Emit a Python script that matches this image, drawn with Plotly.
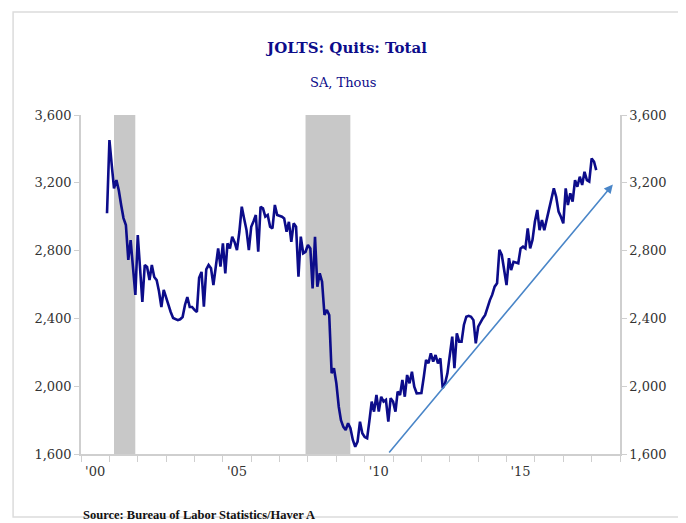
import pandas as pd
import plotly.graph_objects as go

# monthly JOLTS quits, thousands, Dec 2000 onwards
start_month = "2000-12-01"
quits = [
    3020,
    3452, 3300, 3167, 3216, 3157, 3069, 2992, 2951, 2745, 2862, 2697, 2538,  # 2001
    2892, 2697, 2497, 2715, 2703, 2626, 2715, 2644, 2626, 2560, 2467, 2568,  # 2002
    2520, 2470, 2438, 2402, 2395, 2390, 2395, 2408, 2479, 2526, 2467, 2467,  # 2003
    2450, 2438, 2640, 2674, 2469, 2690, 2715, 2696, 2597, 2705, 2813, 2705,  # 2004
    2843, 2666, 2843, 2813, 2882, 2850, 2803, 2911, 3059, 2990, 2921, 2803,  # 2005
    2941, 2975, 3010, 2793, 3059, 3049, 3000, 3010, 2941, 2931, 3069, 3010,  # 2006
    3005, 3000, 2990, 2911, 2970, 2852, 2961, 2941, 2646, 2882, 2784, 2793,  # 2007
    2833, 2813, 2577, 2882, 2587, 2666, 2617, 2420, 2450, 2420, 2076, 2106,  # 2008
    2017, 1879, 1800, 1760, 1742, 1781, 1752, 1683, 1643, 1673, 1791, 1722,  # 2009
    1700, 1693, 1791, 1909, 1850, 1948, 1850, 1938, 1909, 1919, 1791, 1929,  # 2010
    1909, 1850, 1968, 1948, 2037, 1938, 2066, 2017, 2085, 1997, 1958, 1958,  # 2011
    1960, 2056, 2155, 2135, 2194, 2145, 2184, 2135, 2164, 1988, 2017, 2076,  # 2012
    2180, 2292, 2106, 2312, 2263, 2263, 2361, 2410, 2415, 2410, 2390, 2253,  # 2013
    2351, 2380, 2400, 2420, 2469, 2508, 2540, 2587, 2607, 2804, 2774, 2685,  # 2014
    2597, 2755, 2685, 2734, 2730, 2725, 2813, 2823, 2813, 2931, 2813, 2862,  # 2015
    2970, 3040, 2921, 2980, 2921, 2980, 3040, 3108, 3167, 3118, 3030, 3000,  # 2016
    2961, 3167, 3069, 3138, 3089, 3216, 3177, 3236, 3187, 3265, 3216, 3207,  # 2017
    3344, 3324, 3275,                                                        # 2018
]
dates = pd.date_range(start_month, periods=len(quits), freq="MS")

recessions = [("2001-03-01", "2001-11-30"), ("2007-12-01", "2009-06-30")]
trend_start = ("2010-10-27", 1600)
trend_end = ("2018-10-01", 3190)

y_ticks = [1600, 2000, 2400, 2800, 3200, 3600]
year_ticks = [f"{y}-01-01" for y in range(2000, 2020)]
x_labels = ["'00", "'05", "'10", "'15"]
x_label_pos = ["2000-07-01", "2005-07-01", "2010-07-01", "2015-07-01"]

navy = "#0c0c8a"
serif = "DejaVu Serif"
x_range = ["2000-01-01", "2019-01-01"]

fig = go.Figure()
fig.add_trace(go.Scatter(x=dates, y=quits, mode="lines",
                         line=dict(color=navy, width=2.6), showlegend=False))
# same series on the overlay axes, invisible, so those axes get drawn
fig.add_trace(go.Scatter(x=dates, y=quits, mode="lines", xaxis="x2", yaxis="y2",
                         line=dict(color="rgba(0,0,0,0)", width=0),
                         showlegend=False, hoverinfo="skip"))

for a, b in recessions:
    fig.add_shape(type="rect", xref="x", yref="paper", x0=a, x1=b, y0=0, y1=1,
                  fillcolor="#c8c8c8", line_width=0, layer="below")

fig.add_annotation(x=trend_end[0], y=trend_end[1], ax=trend_start[0], ay=trend_start[1],
                   xref="x", yref="y", axref="x", ayref="y", text="",
                   showarrow=True, arrowhead=2, arrowsize=1.1, arrowwidth=1.6,
                   arrowcolor="#4a86c8")

# outer frame
fig.add_shape(type="rect", xref="paper", yref="paper",
              x0=-0.126, x1=1.135, y0=-0.186, y1=1.304,
              line=dict(color="#dcdcdc", width=1.5), fillcolor="rgba(0,0,0,0)")

fig.add_annotation(text="SA, Thous", xref="paper", yref="paper", x=0.487, y=1.097,
                   yanchor="middle", showarrow=False,
                   font=dict(family=serif, size=13, color=navy))
fig.add_annotation(text="<b>Source: Bureau of Labor Statistics/Haver A</b>",
                   xref="paper", yref="paper", x=0.0, y=-0.18, xanchor="left",
                   yanchor="middle", showarrow=False,
                   font=dict(family="Liberation Serif", size=12.5, color="#111"))

axis_font = dict(family=serif, size=13, color="#333")
grey = "#cfcfcf"

fig.update_layout(
    width=678, height=515,
    margin=dict(l=73, r=66, t=107, b=69),
    paper_bgcolor="white", plot_bgcolor="white",
    title=dict(text="<b>JOLTS: Quits: Total</b>", x=0.5, xanchor="center",
               y=1 - 40 / 515, yanchor="middle",
               font=dict(family=serif, size=15, color=navy)),
    xaxis=dict(range=x_range, tickmode="array", tickvals=year_ticks,
               ticktext=[""] * len(year_ticks), ticks="outside", ticklen=6,
               tickcolor=grey, showgrid=False, zeroline=False, showline=True,
               linecolor=grey, linewidth=1.5),
    xaxis2=dict(range=x_range, overlaying="x", side="bottom", tickmode="array",
                tickvals=x_label_pos, ticktext=x_labels, ticks="",
                ticklabelstandoff=8,
                showgrid=False, zeroline=False, showline=False,
                tickfont=axis_font),
    yaxis=dict(range=[1600, 3600], tickvals=y_ticks, tickformat=",",
               ticks="outside", ticklen=5, tickcolor=grey,
               showgrid=False, zeroline=False, showline=True,
               linecolor=grey, linewidth=1.5, tickfont=axis_font),
    yaxis2=dict(range=[1600, 3600], tickvals=y_ticks, tickformat=",",
                overlaying="y", side="right",
                ticks="outside", ticklen=5, tickcolor=grey,
                showgrid=False, zeroline=False, showline=True,
                linecolor=grey, linewidth=1.5, tickfont=axis_font),
)

fig.write_html("out.html")
